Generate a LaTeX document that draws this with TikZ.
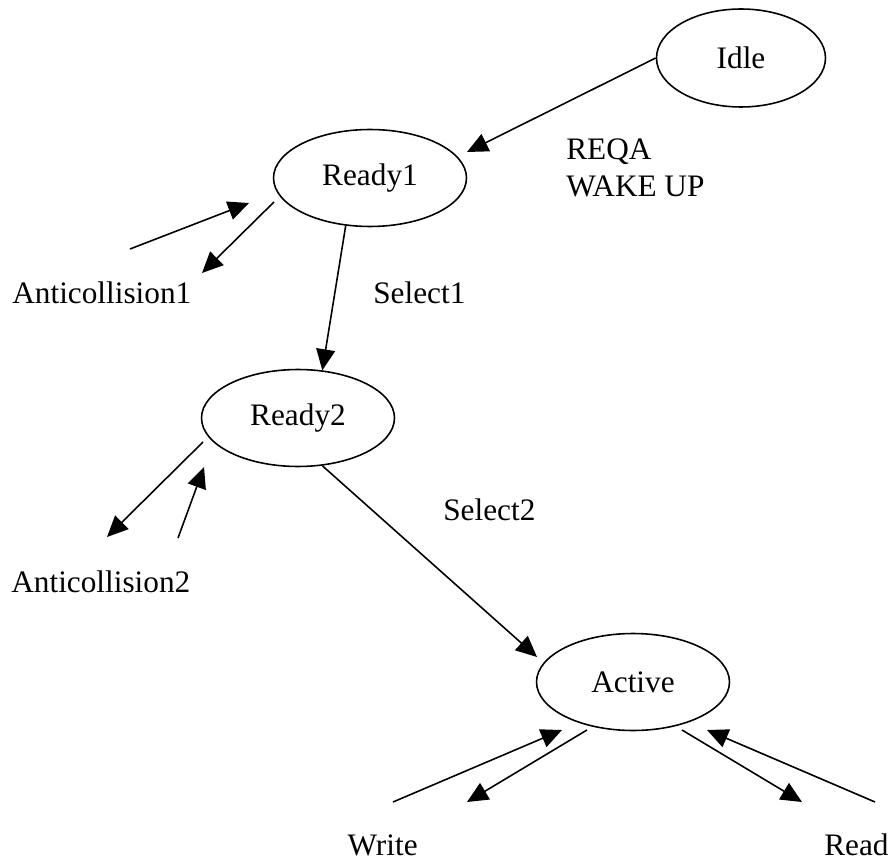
\documentclass[tikz,border=0pt]{standalone}
\usepackage{fontspec}
\setmainfont{Liberation Serif}
\usetikzlibrary{shapes.geometric,arrows.meta}

\tikzset{
    state/.style={draw,ellipse,line width=0.9pt,minimum width=3.86cm,minimum height=1.94cm,inner sep=0pt},
    trans/.style={-{Triangle[length=4.2mm,width=3.8mm]},line width=0.9pt},
    lbl/.style={inner sep=0pt}
}

\begin{document}
\begin{tikzpicture}[x=0.02cm,y=-0.02cm,font=\fontsize{17.8}{21}\selectfont]
    \useasboundingbox (0,0) rectangle (895,861);

    % Draw the states
    \node[state,minimum width=3.38cm,minimum height=1.96cm] (idle) at (741,58) {Idle};
    \node[state] (ready1) at (370,178) {Ready1};
    \node[state] (ready2) at (298,418) {Ready2};
    \node[state] (active) at (633,682) {Active};

    % Draw the labels
    \node[lbl,anchor=west,align=left] (reqa) at (566,168) {REQA\\WAKE UP};
    \node[lbl,anchor=west] (sel1) at (373,293) {Select1};
    \node[lbl,anchor=west] (sel2) at (443,510) {Select2};
    \node[lbl,anchor=west] (anti1) at (12,293) {Anticollision1};
    \node[lbl,anchor=west] (anti2) at (11,582) {Anticollision2};
    \node[lbl,anchor=east] (write) at (418,845) {Write};
    \node[lbl,anchor=west] (read) at (824,845) {Read};

    % Free ends of the arrows
    \coordinate (idletip) at (467,152);
    \coordinate (sel2tip) at (537,657);
    \coordinate (ac1a) at (130,249);
    \coordinate (ac1b) at (249,203);
    \coordinate (ac1c) at (274,202);
    \coordinate (ac1d) at (202,273);
    \coordinate (ac2a) at (203,442);
    \coordinate (ac2b) at (107,537);
    \coordinate (ac2c) at (178,538);
    \coordinate (ac2d) at (204,467);
    \coordinate (wra) at (393,802);
    \coordinate (wrb) at (562,730);
    \coordinate (wrc) at (587,730);
    \coordinate (wrd) at (467,802);
    \coordinate (rda) at (682,730);
    \coordinate (rdb) at (802,802);
    \coordinate (rdc) at (875,802);
    \coordinate (rdd) at (707,730);

    % Draw the transitions
    \draw[trans] (idle.west) -- (idletip);
    \draw[trans] (ready1.-117) -- (ready2.63);
    \draw[trans] (ready2.-63) -- (sel2tip);

    % Anticollision loops
    \draw[trans] (ac1a) -- (ac1b);
    \draw[trans] (ac1c) -- (ac1d);
    \draw[trans] (ac2a) -- (ac2b);
    \draw[trans] (ac2c) -- (ac2d);

    % Write and read
    \draw[trans] (wra) -- (wrb);
    \draw[trans] (wrc) -- (wrd);
    \draw[trans] (rda) -- (rdb);
    \draw[trans] (rdc) -- (rdd);
\end{tikzpicture}
\end{document}
